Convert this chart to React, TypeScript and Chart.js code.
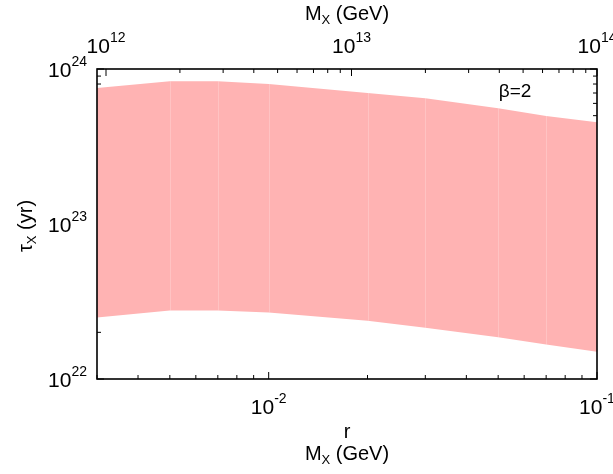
import React, { useEffect, useRef } from 'react';
import { Chart, registerables } from 'chart.js';

Chart.register(...registerables);

// ---- data ----
const rValues = [0.003, 0.005, 0.007, 0.01, 0.02, 0.03, 0.05, 0.07, 0.1];
const tauUpper = [7.55e23, 8.33e23, 8.33e23, 8.0e23, 7.0e23, 6.47e23, 5.58e23, 4.98e23, 4.53e23];
const tauLower = [2.49e22, 2.77e22, 2.77e22, 2.69e22, 2.38e22, 2.14e22, 1.86e22, 1.67e22, 1.5e22];

// ---- axes ----
const rRange = [0.003, 0.1];
const massRange = [9.19e11, 1e14];
const tauRange = [1e22, 1e24];
const rMajorTicks = [0.01, 0.1];
const rTickExponents = ['-2', '-1'];
const massMajorTicks = [1e12, 1e13, 1e14];
const massTickExponents = ['12', '13', '14'];
const tauMajorTicks = [1e22, 1e23, 1e24];
const tauTickExponents = ['22', '23', '24'];
const annotationText = 'β=2';

const FONT = '"Liberation Sans", Arial, Helvetica, sans-serif';
const TITLE = 20;
const TSUB = 13;
const BASE = 21;
const SUP = 14;

function minorTicks(min: number, max: number): number[] {
  const out: number[] = [];
  for (let d = Math.floor(Math.log10(min)); d <= Math.ceil(Math.log10(max)); d++) {
    for (let k = 2; k <= 9; k++) {
      const v = k * Math.pow(10, d);
      if (v >= min && v <= max) out.push(v);
    }
  }
  return out;
}

function drawPow(ctx: CanvasRenderingContext2D, x: number, y: number, exp: string, align: 'center' | 'right') {
  ctx.font = `${BASE}px ${FONT}`;
  const wb = ctx.measureText('10').width;
  ctx.font = `${SUP}px ${FONT}`;
  const we = ctx.measureText(exp).width;
  const total = wb + we;
  const x0 = align === 'center' ? x - total / 2 : x - total;
  ctx.textAlign = 'left';
  ctx.textBaseline = 'middle';
  ctx.font = `${BASE}px ${FONT}`;
  ctx.fillText('10', x0, y);
  ctx.font = `${SUP}px ${FONT}`;
  ctx.fillText(exp, x0 + wb, y - 9);
}

type Part = { t: string; sub?: boolean };
function drawParts(ctx: CanvasRenderingContext2D, x: number, y: number, parts: Part[]) {
  let total = 0;
  const widths = parts.map((p) => {
    ctx.font = `${p.sub ? TSUB : TITLE}px ${FONT}`;
    const w = ctx.measureText(p.t).width;
    total += w;
    return w;
  });
  let cx = x - total / 2;
  ctx.textAlign = 'left';
  ctx.textBaseline = 'middle';
  parts.forEach((p, i) => {
    ctx.font = `${p.sub ? TSUB : TITLE}px ${FONT}`;
    ctx.fillText(p.t, cx, p.sub ? y + 6 : y);
    cx += widths[i];
  });
}

const framePlugin = {
  id: 'framePlugin',
  beforeDatasetsDraw(chart: any) {
    const { ctx, chartArea: a, scales } = chart;
    const xs = scales.x, x2 = scales.x2, ys = scales.y;
    ctx.save();
    ctx.strokeStyle = '#000';
    ctx.lineWidth = 1;
    const major = 7, minor = 4;
    const vTick = (px: number, len: number) => {
      ctx.beginPath();
      ctx.moveTo(px, a.bottom);
      ctx.lineTo(px, a.bottom - len);
      ctx.stroke();
    };
    const tTick = (px: number, len: number) => {
      ctx.beginPath();
      ctx.moveTo(px, a.top);
      ctx.lineTo(px, a.top + len);
      ctx.stroke();
    };
    const hTick = (py: number, len: number) => {
      ctx.beginPath();
      ctx.moveTo(a.left, py);
      ctx.lineTo(a.left + len, py);
      ctx.moveTo(a.right, py);
      ctx.lineTo(a.right - len, py);
      ctx.stroke();
    };
    rMajorTicks.forEach((v) => vTick(xs.getPixelForValue(v), major));
    minorTicks(rRange[0], rRange[1]).forEach((v) => vTick(xs.getPixelForValue(v), minor));
    massMajorTicks.forEach((v) => tTick(x2.getPixelForValue(v), major));
    minorTicks(massRange[0], massRange[1]).forEach((v) => tTick(x2.getPixelForValue(v), minor));
    tauMajorTicks.forEach((v) => hTick(ys.getPixelForValue(v), major));
    minorTicks(tauRange[0], tauRange[1]).forEach((v) => hTick(ys.getPixelForValue(v), minor));
    ctx.restore();
  },
  afterDatasetsDraw(chart: any) {
    const { ctx, scales } = chart;
    ctx.save();
    ctx.strokeStyle = 'rgba(255,255,255,0.22)';
    ctx.lineWidth = 1;
    for (let i = 1; i < rValues.length - 1; i++) {
      const px = Math.round(scales.x.getPixelForValue(rValues[i])) + 0.5;
      ctx.beginPath();
      ctx.moveTo(px, scales.y.getPixelForValue(tauUpper[i]));
      ctx.lineTo(px, scales.y.getPixelForValue(tauLower[i]));
      ctx.stroke();
    }
    ctx.restore();
  },
  afterDraw(chart: any) {
    const { ctx, chartArea: a, scales } = chart;
    ctx.save();
    ctx.strokeStyle = '#000';
    ctx.lineWidth = 1.6;
    ctx.strokeRect(a.left, a.top, a.right - a.left, a.bottom - a.top);
    ctx.fillStyle = '#000';
    rMajorTicks.forEach((v, i) => drawPow(ctx, scales.x.getPixelForValue(v), a.bottom + 29, rTickExponents[i], 'center'));
    massMajorTicks.forEach((v, i) => drawPow(ctx, scales.x2.getPixelForValue(v), a.top - 22, massTickExponents[i], 'center'));
    tauMajorTicks.forEach((v, i) => drawPow(ctx, a.left - 10, scales.y.getPixelForValue(v) + 2, tauTickExponents[i], 'right'));
    const cx = (a.left + a.right) / 2;
    drawParts(ctx, cx, 14, [{ t: 'M' }, { t: 'X', sub: true }, { t: ' (GeV)' }]);
    drawParts(ctx, cx, a.bottom + 53, [{ t: 'r' }]);
    drawParts(ctx, cx, a.bottom + 75, [{ t: 'M' }, { t: 'X', sub: true }, { t: ' (GeV)' }]);
    ctx.save();
    ctx.translate(26, (a.top + a.bottom) / 2 + 2);
    ctx.rotate(-Math.PI / 2);
    drawParts(ctx, 0, 0, [{ t: 'τ' }, { t: 'X', sub: true }, { t: ' (yr)' }]);
    ctx.restore();
    ctx.font = `19px ${FONT}`;
    ctx.textAlign = 'center';
    ctx.textBaseline = 'middle';
    ctx.fillText(annotationText, 515, 92);
    ctx.restore();
  },
};

export default function App() {
  const ref = useRef<HTMLCanvasElement | null>(null);
  useEffect(() => {
    if (!ref.current) return;
    const chart = new Chart(ref.current, {
      type: 'line',
      data: {
        datasets: [
          {
            label: 'lower',
            data: rValues.map((x, i) => ({ x, y: tauLower[i] })),
            borderWidth: 0,
            pointRadius: 0,
            fill: false,
            tension: 0,
          },
          {
            label: 'upper',
            data: rValues.map((x, i) => ({ x, y: tauUpper[i] })),
            borderWidth: 0,
            pointRadius: 0,
            fill: '-1',
            backgroundColor: '#ffb3b3',
            tension: 0,
          },
        ],
      },
      options: {
        animation: false,
        responsive: false,
        events: [],
        layout: { padding: { left: 97, top: 69, right: 16, bottom: 95 } },
        plugins: { legend: { display: false }, tooltip: { enabled: false } },
        scales: {
          x: { type: 'logarithmic', min: rRange[0], max: rRange[1], display: false },
          x2: { type: 'logarithmic', axis: 'x', position: 'top', min: massRange[0], max: massRange[1], display: false },
          y: { type: 'logarithmic', min: tauRange[0], max: tauRange[1], display: false },
        },
      },
      plugins: [framePlugin],
    } as any);
    return () => chart.destroy();
  }, []);
  return (
    <div style={{ position: 'absolute', left: 0, top: 0, width: 613, height: 474, background: '#fff' }}>
      <canvas ref={ref} width={613} height={474} style={{ display: 'block' }} />
    </div>
  );
}
